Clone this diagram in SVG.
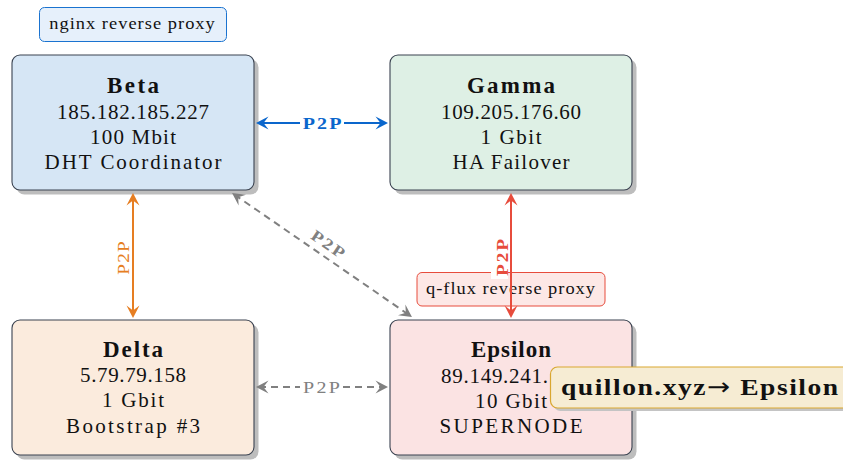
<svg xmlns="http://www.w3.org/2000/svg" width="843" height="460" viewBox="0 0 843 460">
  <style>
    text { font-family: "Liberation Serif", "Times New Roman", serif; fill: #111; }
    .box { stroke: #3a4250; stroke-width: 1.1; }
    .shadow { fill: #bdbdbd; }
    .t { font-size: 21px; text-anchor: middle; }
    .h { font-size: 23px; font-weight: bold; text-anchor: middle; }
    .tag { font-size: 16px; text-anchor: middle; }
    .lbl { font-size: 16px; text-anchor: middle; }
    .conn { fill: none; stroke-width: 2; }
    .dash { stroke-dasharray: 7 5; }
  </style>
  <defs>
    <marker id="ah-blue" viewBox="-13 -7 15 14" refX="-3" refY="0" markerWidth="15" markerHeight="14" markerUnits="userSpaceOnUse" orient="auto-start-reverse">
      <path d="M0,0 L-12.5,-6.5 L-7.5,0 L-12.5,6.5 Z" fill="#0a66cc"/>
    </marker>
    <marker id="ah-orange" viewBox="-13 -7 15 14" refX="-3" refY="0" markerWidth="15" markerHeight="14" markerUnits="userSpaceOnUse" orient="auto-start-reverse">
      <path d="M0,0 L-12.5,-6.5 L-7.5,0 L-12.5,6.5 Z" fill="#e67e22"/>
    </marker>
    <marker id="ah-red" viewBox="-13 -7 15 14" refX="-3" refY="0" markerWidth="15" markerHeight="14" markerUnits="userSpaceOnUse" orient="auto-start-reverse">
      <path d="M0,0 L-12.5,-6.5 L-7.5,0 L-12.5,6.5 Z" fill="#e74c3c"/>
    </marker>
    <marker id="ah-gray" viewBox="-13 -7 15 14" refX="-3" refY="0" markerWidth="15" markerHeight="14" markerUnits="userSpaceOnUse" orient="auto-start-reverse">
      <path d="M0,0 L-12.5,-6.5 L-7.5,0 L-12.5,6.5 Z" fill="#808080"/>
    </marker>
  </defs>

  <rect width="843" height="460" fill="#ffffff"/>

  <!-- Beta -->
  <g id="beta">
    <rect class="shadow" x="16.5" y="59.5" width="242" height="135" rx="8"/>
    <rect class="box" x="12" y="55" width="242" height="135" rx="8" fill="#d6e6f5"/>
    <text class="h" x="133" y="92.5" textLength="52" lengthAdjust="spacing">Beta</text>
    <text class="t" x="133" y="119" textLength="152" lengthAdjust="spacing">185.182.185.227</text>
    <text class="t" x="133" y="144" textLength="86" lengthAdjust="spacing">100 Mbit</text>
    <text class="t" x="133" y="169" textLength="177" lengthAdjust="spacing">DHT Coordinator</text>
  </g>

  <!-- Gamma -->
  <g id="gamma">
    <rect class="shadow" x="394.5" y="59.5" width="242" height="135" rx="8"/>
    <rect class="box" x="390" y="55" width="242" height="135" rx="8" fill="#def0e5"/>
    <text class="h" x="511" y="92.5" textLength="88" lengthAdjust="spacing">Gamma</text>
    <text class="t" x="511" y="119" textLength="140" lengthAdjust="spacing">109.205.176.60</text>
    <text class="t" x="511" y="144" textLength="61" lengthAdjust="spacing">1 Gbit</text>
    <text class="t" x="511" y="169" textLength="117" lengthAdjust="spacing">HA Failover</text>
  </g>

  <!-- Delta -->
  <g id="delta">
    <rect class="shadow" x="16.5" y="324.5" width="242" height="135" rx="8"/>
    <rect class="box" x="12" y="320" width="242" height="135" rx="8" fill="#fbebdd"/>
    <text class="h" x="133" y="357" textLength="60" lengthAdjust="spacing">Delta</text>
    <text class="t" x="133" y="382" textLength="106" lengthAdjust="spacing">5.79.79.158</text>
    <text class="t" x="133" y="407" textLength="62" lengthAdjust="spacing">1 Gbit</text>
    <text class="t" x="133" y="433" textLength="134" lengthAdjust="spacing">Bootstrap #3</text>
  </g>

  <!-- Epsilon -->
  <g id="epsilon">
    <rect class="shadow" x="394.5" y="324.5" width="242" height="135" rx="8"/>
    <rect class="box" x="390" y="320" width="242" height="135" rx="8" fill="#fbe3e3"/>
    <text class="h" x="511" y="357" textLength="80" lengthAdjust="spacing">Epsilon</text>
    <text class="t" x="441" y="383" style="text-anchor:start" textLength="107" lengthAdjust="spacing">89.149.241.</text>
    <text class="t" x="511" y="408" textLength="72" lengthAdjust="spacing">10 Gbit</text>
    <text class="t" x="511" y="433" textLength="143" lengthAdjust="spacing">SUPERNODE</text>
  </g>

  <!-- proxy tags (text widened slightly, Computer Modern style) -->
  <g id="nginx-tag">
    <rect x="39.5" y="7.5" width="187" height="34" rx="5" fill="#e6f0fb" stroke="#1a73d0" stroke-width="1"/>
    <text class="tag" transform="translate(132 29) scale(1.15 1)" textLength="144" lengthAdjust="spacing">nginx reverse proxy</text>
  </g>
  <g id="qflux-tag">
    <rect x="417" y="272.5" width="188" height="33.5" rx="5" fill="#fde8e6" stroke="#e74c3c" stroke-width="1"/>
    <text class="tag" transform="translate(510.5 293.5) scale(1.15 1)" textLength="147" lengthAdjust="spacing">q-flux reverse proxy</text>
  </g>

  <!-- connectors -->
  <g id="connectors">
    <!-- Beta <-> Gamma -->
    <path class="conn" d="M259,123 H385" stroke="#0a66cc" marker-start="url(#ah-blue)" marker-end="url(#ah-blue)"/>
    <rect x="300" y="113" width="44" height="20" fill="#ffffff"/>
    <text class="lbl" transform="translate(322 128.5) scale(1.25 1)" style="fill:#0a66cc;font-weight:bold" textLength="31" lengthAdjust="spacing">P2P</text>

    <!-- Beta <-> Delta -->
    <path class="conn" d="M133,196 V315" stroke="#e67e22" marker-start="url(#ah-orange)" marker-end="url(#ah-orange)"/>
    <text class="lbl" transform="translate(128.5 258) rotate(-90) scale(1.2 1)" style="fill:#e67e22" textLength="28" lengthAdjust="spacing">P2P</text>

    <!-- Gamma <-> Epsilon -->
    <rect x="491" y="236" width="17" height="43" fill="#ffffff"/>
    <path class="conn" d="M511,196 V315" stroke="#e74c3c" marker-start="url(#ah-red)" marker-end="url(#ah-red)"/>
    <text class="lbl" transform="translate(507.5 257.5) rotate(-90) scale(1.2 1)" style="fill:#e74c3c;font-weight:bold" textLength="31" lengthAdjust="spacing">P2P</text>

    <!-- Beta <-> Epsilon -->
    <path class="conn dash" d="M234.5,194.7 L409.5,315.3" stroke="#808080" marker-start="url(#ah-gray)" marker-end="url(#ah-gray)"/>
    <text class="lbl" transform="translate(325 248.5) rotate(34.6) scale(1.2 1)" style="fill:#808080;font-weight:bold" textLength="31" lengthAdjust="spacing">P2P</text>

    <!-- Delta <-> Epsilon -->
    <path class="conn dash" d="M259,387 H385" stroke="#808080" marker-start="url(#ah-gray)" marker-end="url(#ah-gray)"/>
    <rect x="300" y="377" width="43" height="20" fill="#ffffff"/>
    <text class="lbl" transform="translate(321.5 393) scale(1.25 1)" style="fill:#808080" textLength="29.5" lengthAdjust="spacing">P2P</text>
  </g>

  <!-- domain tag -->
  <g id="domain-tag">
    <rect x="553.5" y="370" width="310" height="41" rx="7" fill="#c4c4c4"/>
    <rect x="550.5" y="367" width="310" height="41" rx="7" fill="#f6ecd3" stroke="#d9a730" stroke-width="1.2"/>
    <text transform="translate(561 395) scale(1.15 1)" style="font-size:24px;font-weight:bold" textLength="241" lengthAdjust="spacing">quillon.xyz<tspan style="font-family:'DejaVu Sans',sans-serif;font-weight:normal">→</tspan> Epsilon</text>
  </g>
</svg>
